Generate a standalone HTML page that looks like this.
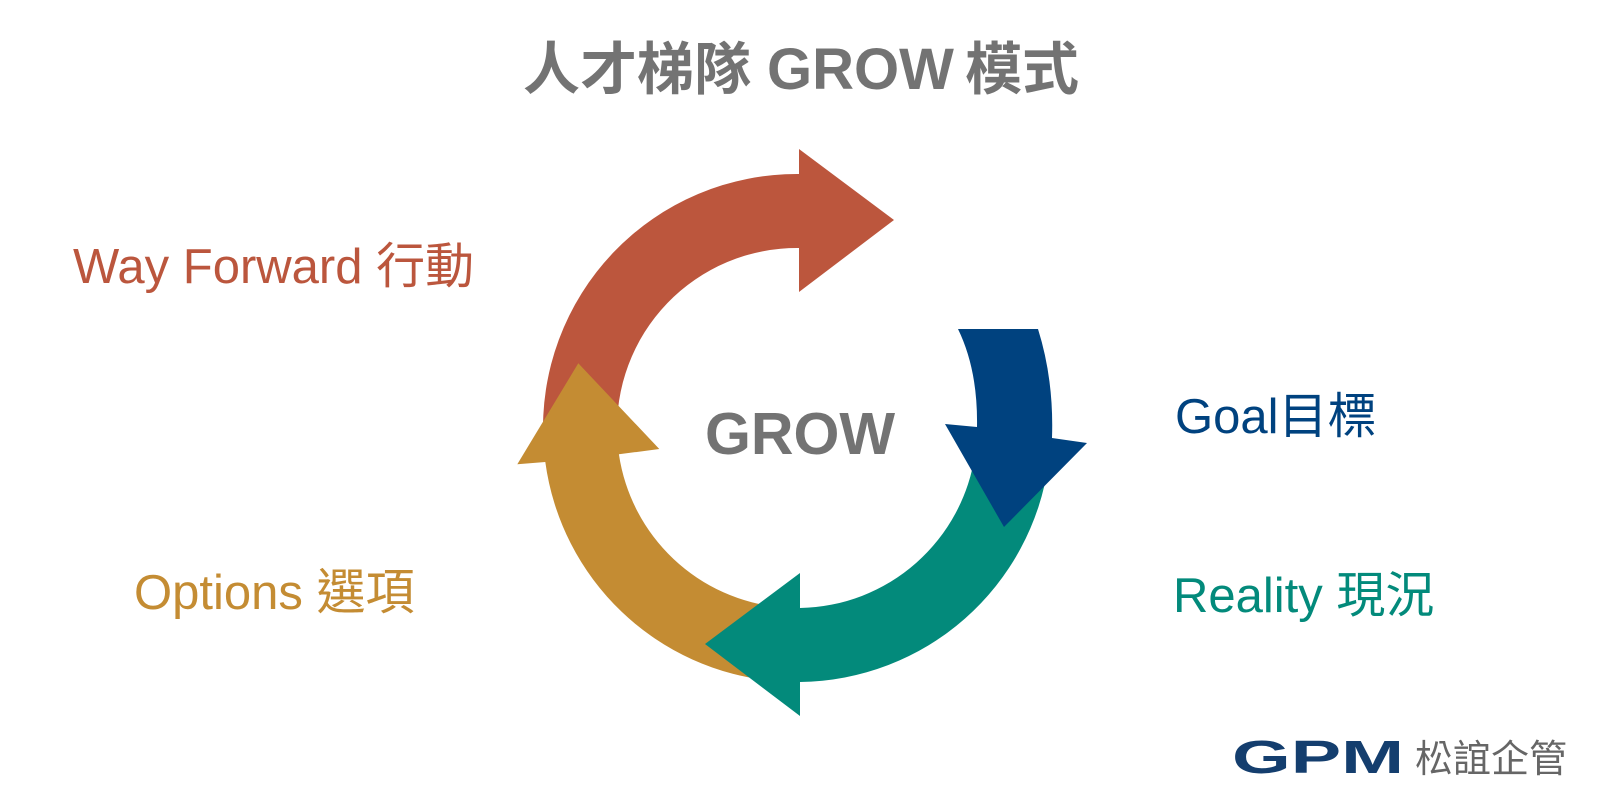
<!DOCTYPE html>
<html>
<head>
<meta charset="utf-8">
<style>
  html, body { margin: 0; padding: 0; background: #ffffff; }
  body { width: 1600px; height: 800px; overflow: hidden; }
  svg { display: block; }
  text { font-family: "Liberation Sans", "Noto Sans CJK TC", sans-serif; }
</style>
</head>
<body>
<svg width="1600" height="800" viewBox="0 0 1600 800" xmlns="http://www.w3.org/2000/svg">
  <rect x="0" y="0" width="1600" height="800" fill="#ffffff"/>

  <!-- Title -->
  <text x="523" y="89" font-size="57" font-weight="700" fill="#737373">人才梯隊</text>
  <text x="767" y="89" font-size="58" font-weight="700" fill="#737373">GROW</text>
  <text x="1079" y="89" font-size="57" font-weight="700" fill="#737373" text-anchor="end">模式</text>

  <!-- Red arrow (Way Forward) -->
  <path d="M 543.35 441.29 A 254 254 0 0 1 799 174 L 799 149 L 894 220 L 799 292 L 799 248 A 180 180 0 0 0 617.25 437.42 Z" fill="#BC563D"/>

  <!-- Gold arrow (Options) -->
  <path d="M 545.3 462.0 L 517.3 464.3 L 578.3 363.3 L 659.3 449 L 618.9 454.3 A 180 180 0 0 0 781.31 607.32 L 774.86 681.03 A 254 254 0 0 1 545.3 462.0 Z" fill="#C48C33"/>

  <!-- Teal arrow (Reality) -->
  <path d="M 1048.53 463.35 A 254 254 0 0 1 800 682 L 800 716 L 705 644 L 800 573 L 800 608 A 180 180 0 0 0 975.25 453.05 Z" fill="#038A7B"/>

  <!-- Blue arrow (Goal) -->
  <path d="M 958 329 L 1038 329 Q 1054 380 1052 438 L 1087 443 L 1004 527 L 945 424 L 977 427 Q 978 370 958 329 Z" fill="#00427F"/>

  <!-- Center text -->
  <text x="800" y="454" font-size="59" font-weight="700" fill="#737373" text-anchor="middle">GROW</text>

  <!-- Labels -->
  <text x="73" y="283" font-size="49" fill="#BB563D">Way Forward 行動</text>
  <text x="1175" y="433" font-size="49" fill="#00427F">Goal目標</text>
  <text x="1173" y="612" font-size="49" fill="#038A7B">Reality 現況</text>
  <text x="134" y="609" font-size="49" fill="#C48C33">Options 選項</text>

  <!-- Logo -->
  <text x="1232" y="773" font-size="46" font-weight="700" fill="#143E6E" textLength="172" lengthAdjust="spacingAndGlyphs">GPM</text>
  <text x="1415" y="772" font-size="38" fill="#666666">松誼企管</text>
</svg>
</body>
</html>
